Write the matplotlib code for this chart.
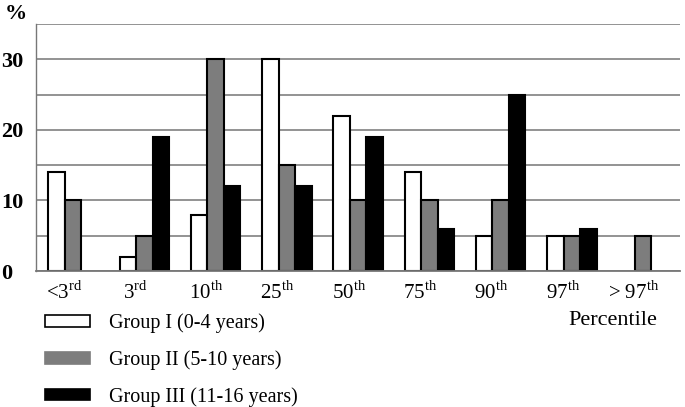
import numpy as np
import matplotlib
matplotlib.use("Agg")
import matplotlib.pyplot as plt
from matplotlib.patches import Patch

plt.rcParams['font.family'] = ['Liberation Serif', 'DejaVu Serif']
plt.rcParams['mathtext.fontset'] = 'custom'
plt.rcParams['mathtext.rm'] = 'Liberation Serif'

# percentile classes and share of children (%) per age group
categories = [r'<3$^{\mathrm{rd}}$', r'3$^{\mathrm{rd}}$', r'10$^{\mathrm{th}}$',
              r'25$^{\mathrm{th}}$', r'50$^{\mathrm{th}}$', r'75$^{\mathrm{th}}$',
              r'90$^{\mathrm{th}}$', r'97$^{\mathrm{th}}$', r'> 97$^{\mathrm{th}}$']
group1 = [14, 2, 8, 30, 22, 14, 5, 5, 0]
group2 = [10, 5, 30, 15, 10, 10, 10, 5, 5]
group3 = [0, 19, 12, 12, 19, 6, 25, 6, 0]
labels = ['Group I (0-4 years)', 'Group II (5-10 years)', 'Group III (11-16 years)']
yticks = [0, 10, 20, 30]

fig = plt.figure(figsize=(6.85, 4.07), dpi=100)
ax = fig.add_axes([0.0526, 0.334, 0.9404, 0.607])

x = np.arange(len(categories))
w = 0.232
b1 = ax.bar(x - w, group1, w, color='white', edgecolor='black', linewidth=1.5)
b2 = ax.bar(x, group2, w, color='#7d7d7d', edgecolor='black', linewidth=1.5)
b3 = ax.bar(x + w, group3, w, color='black', edgecolor='black', linewidth=1.5)

# empty classes have no visible bar
for bars, vals in [(b1, group1), (b2, group2), (b3, group3)]:
    for b, v in zip(bars, vals):
        if v == 0:
            b.set_visible(False)

ax.set_xlim(-0.52, 8.52)
ax.set_ylim(0, 35)
ax.set_yticks(yticks)
ax.set_yticks([5, 15, 25, 35], minor=True)
ax.grid(axis='y', which='both', color='#8a8a8a', linewidth=1.3)
ax.set_axisbelow(True)
ax.tick_params(axis='y', which='both', length=0, pad=25, labelsize=16)
for t in ax.get_yticklabels():
    t.set_horizontalalignment('left')
    t.set_fontweight('bold')

ax.set_xticks(x - 0.13)
ax.set_xticklabels(categories, fontsize=15)
ax.tick_params(axis='x', length=0, pad=7)

for s in ['top', 'right']:
    ax.spines[s].set_visible(False)
ax.spines['left'].set_color('#777777')
ax.spines['bottom'].set_color('#777777')
ax.spines['left'].set_linewidth(1.0)
ax.spines['bottom'].set_linewidth(1.3)

fig.text(0.007, 0.965, '%', fontsize=16, fontweight='bold', va='center')
fig.text(0.895, 0.213, 'Percentile', fontsize=16, ha='center', va='center')

handles = [Patch(facecolor='white', edgecolor='black', linewidth=1.2),
           Patch(facecolor='#7d7d7d', edgecolor='#7d7d7d', linewidth=1.2),
           Patch(facecolor='black', edgecolor='black', linewidth=1.2)]
fig.legend(handles, labels, loc='upper left', bbox_to_anchor=(0.066, 0.23),
           frameon=False, fontsize=14.5, handlelength=2.2, handleheight=0.5,
           handletextpad=0.95, labelspacing=0.85, borderaxespad=0, borderpad=0)

fig.savefig('out.png', dpi=100)
